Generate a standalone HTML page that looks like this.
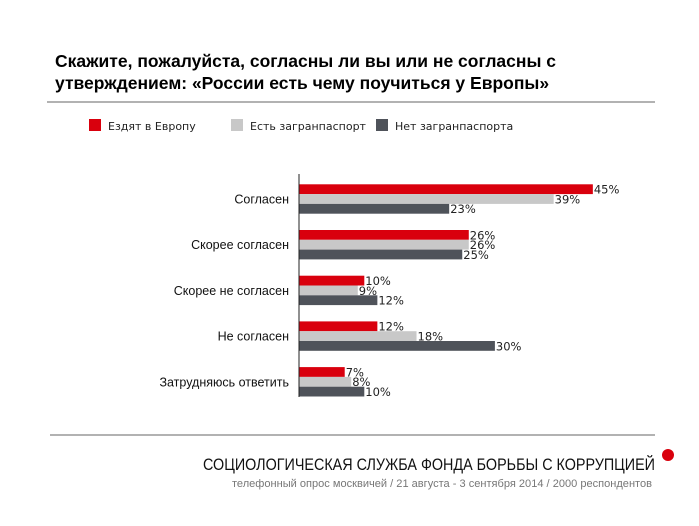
<!DOCTYPE html>
<html><head><meta charset="utf-8"><style>
body{margin:0;background:#fff;width:699px;height:521px;overflow:hidden;font-family:"Liberation Sans","DejaVu Sans",sans-serif}
</style></head><body>
<svg width="699" height="521" xmlns="http://www.w3.org/2000/svg">
<text x="55" y="67" font-size="17.5" font-weight="bold" fill="#000">Скажите, пожалуйста, согласны ли вы или не согласны с</text>
<text x="55" y="89" font-size="17.5" font-weight="bold" fill="#000">утверждением: «России есть чему поучиться у Европы»</text>
<line x1="47" y1="102" x2="655" y2="102" stroke="#999" stroke-width="1.5"/>
<g font-family="DejaVu Sans, sans-serif" font-size="11" fill="#222">
<rect x="89" y="119" width="12" height="12" fill="#d9000d"/>
<text x="108" y="130">Ездят в Европу</text>
<rect x="231" y="119" width="12" height="12" fill="#c8c8c8"/>
<text x="250" y="130">Есть загранпаспорт</text>
<rect x="376" y="119" width="12" height="12" fill="#4f535a"/>
<text x="395" y="130">Нет загранпаспорта</text>
</g>
<g id="plot"></g>
<line x1="299" y1="174" x2="299" y2="397" stroke="#222" stroke-width="1"/>
<line x1="50" y1="435" x2="655" y2="435" stroke="#999" stroke-width="1.5"/>
<text x="655" y="470" text-anchor="end" font-size="17" fill="#111" textLength="452" lengthAdjust="spacingAndGlyphs">СОЦИОЛОГИЧЕСКАЯ СЛУЖБА ФОНДА БОРЬБЫ С КОРРУПЦИЕЙ</text>
<circle cx="668" cy="455" r="6" fill="#d9000d"/>
<text x="652" y="487" text-anchor="end" font-size="11" fill="#777" textLength="420" lengthAdjust="spacingAndGlyphs">телефонный опрос москвичей / 21 августа - 3 сентября 2014 / 2000 респондентов</text>
</svg>
<script>
const categories=["Согласен","Скорее согласен","Скорее не согласен","Не согласен","Затрудняюсь ответить"];
const europe=[45,26,10,12,7];
const passport=[39,26,9,18,8];
const noPassport=[23,25,12,30,10];
const series=[europe,passport,noPassport];
const colors=["#d9000d","#c8c8c8","#4f535a"];
const names=["europe","passport","no-passport"];
const NS="http://www.w3.org/2000/svg";
const g=document.getElementById('plot');
const x0=299,k=6.53,top0=184.3,step=45.7,bh=9.8;
const xs=v=>x0+v*k;
categories.forEach((c,i)=>{
  const gy=top0+i*step;
  const t=document.createElementNS(NS,'text');
  
  
  t.setAttribute('x',289);t.setAttribute('y',gy+bh*1.5+4.5);
  t.setAttribute('text-anchor','end');t.setAttribute('font-size','12.5');t.setAttribute('fill','#111');
  t.textContent=c;g.appendChild(t);
  series.forEach((s,j)=>{
    const y=gy+j*bh;
    const r=document.createElementNS(NS,'rect');
    
    
    r.setAttribute('x',x0);r.setAttribute('y',y);
    r.setAttribute('width',xs(s[i])-x0);r.setAttribute('height',bh);
    r.setAttribute('fill',colors[j]);g.appendChild(r);
    const l=document.createElementNS(NS,'text');
    
    
    l.setAttribute('x',xs(s[i])+1);l.setAttribute('y',y+bh-0.5);
    l.setAttribute('font-family','DejaVu Sans, sans-serif');
    l.setAttribute('font-size','11.5');l.setAttribute('fill','#222');
    l.textContent=s[i]+'%';g.appendChild(l);
  });
});
</script>
</body></html>
